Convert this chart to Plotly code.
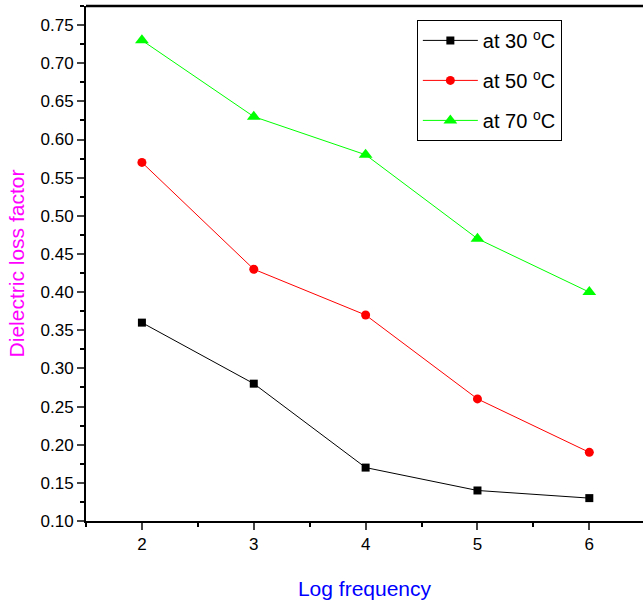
import plotly.graph_objects as go

freq = [2, 3, 4, 5, 6]
loss_30 = [0.36, 0.28, 0.17, 0.14, 0.13]
loss_50 = [0.57, 0.43, 0.37, 0.26, 0.19]
loss_70 = [0.73, 0.63, 0.58, 0.47, 0.40]
names = ["at 30 <sup>o</sup>C", "at 50 <sup>o</sup>C", "at 70 <sup>o</sup>C"]

fig = go.Figure()
fig.add_trace(go.Scatter(x=freq, y=loss_30, name=names[0], mode="lines+markers",
                         legendgroup="a",
                         line=dict(color="black", width=1),
                         marker=dict(symbol="square", size=8, color="black")))
fig.add_trace(go.Scatter(x=freq, y=loss_50, name=names[1], mode="lines+markers",
                         legendgroup="b",
                         line=dict(color="red", width=1),
                         marker=dict(symbol="circle", size=9, color="red")))
fig.add_trace(go.Scatter(x=freq, y=loss_70, name=names[2], mode="lines+markers",
                         legendgroup="c",
                         line=dict(color="#00ff00", width=1),
                         marker=dict(symbol="triangle-up", size=12, color="#00ff00")))

fig.add_shape(type="line", xref="paper", yref="paper", x0=0, x1=1, y0=1, y1=1,
              line=dict(color="black", width=2.5))

fig.update_layout(
    width=643, height=606,
    margin=dict(l=86, r=0, t=6, b=85),
    plot_bgcolor="white", paper_bgcolor="white",
    font=dict(family="Liberation Sans, Arial, sans-serif", color="black", size=17),
    legend=dict(x=0.594, y=0.973, xanchor="left", yanchor="top",
                bordercolor="black", borderwidth=1, bgcolor="white",
                font=dict(size=20), itemwidth=55, tracegroupgap=11,
                traceorder="grouped"),
    showlegend=True,
)
fig.update_xaxes(
    range=[1.5, 6.48], tickvals=freq, ticks="outside", ticklen=7, tickwidth=1.5,
    showline=True, linecolor="black", linewidth=2, mirror=False, showgrid=False,
    zeroline=False, tickfont=dict(size=17),
    minor=dict(dtick=0.5, tick0=1.5, ticks="outside", ticklen=4, tickcolor="black", showgrid=False),
    title=dict(text="Log frequency", font=dict(color="blue", size=21), standoff=28),
)
fig.update_yaxes(
    range=[0.10, 0.775], dtick=0.05, tick0=0.1, tickformat=".2f", ticks="outside",
    ticklen=7, tickwidth=1.5, showline=True, linecolor="black", linewidth=2,
    mirror=False, showgrid=False, zeroline=False, tickfont=dict(size=17),
    minor=dict(dtick=0.025, tick0=0.1, ticks="outside", ticklen=4, tickcolor="black", showgrid=False),
    title=dict(text="Dielectric loss factor", font=dict(color="magenta", size=21), standoff=10),
)
fig.write_html("out.html")
